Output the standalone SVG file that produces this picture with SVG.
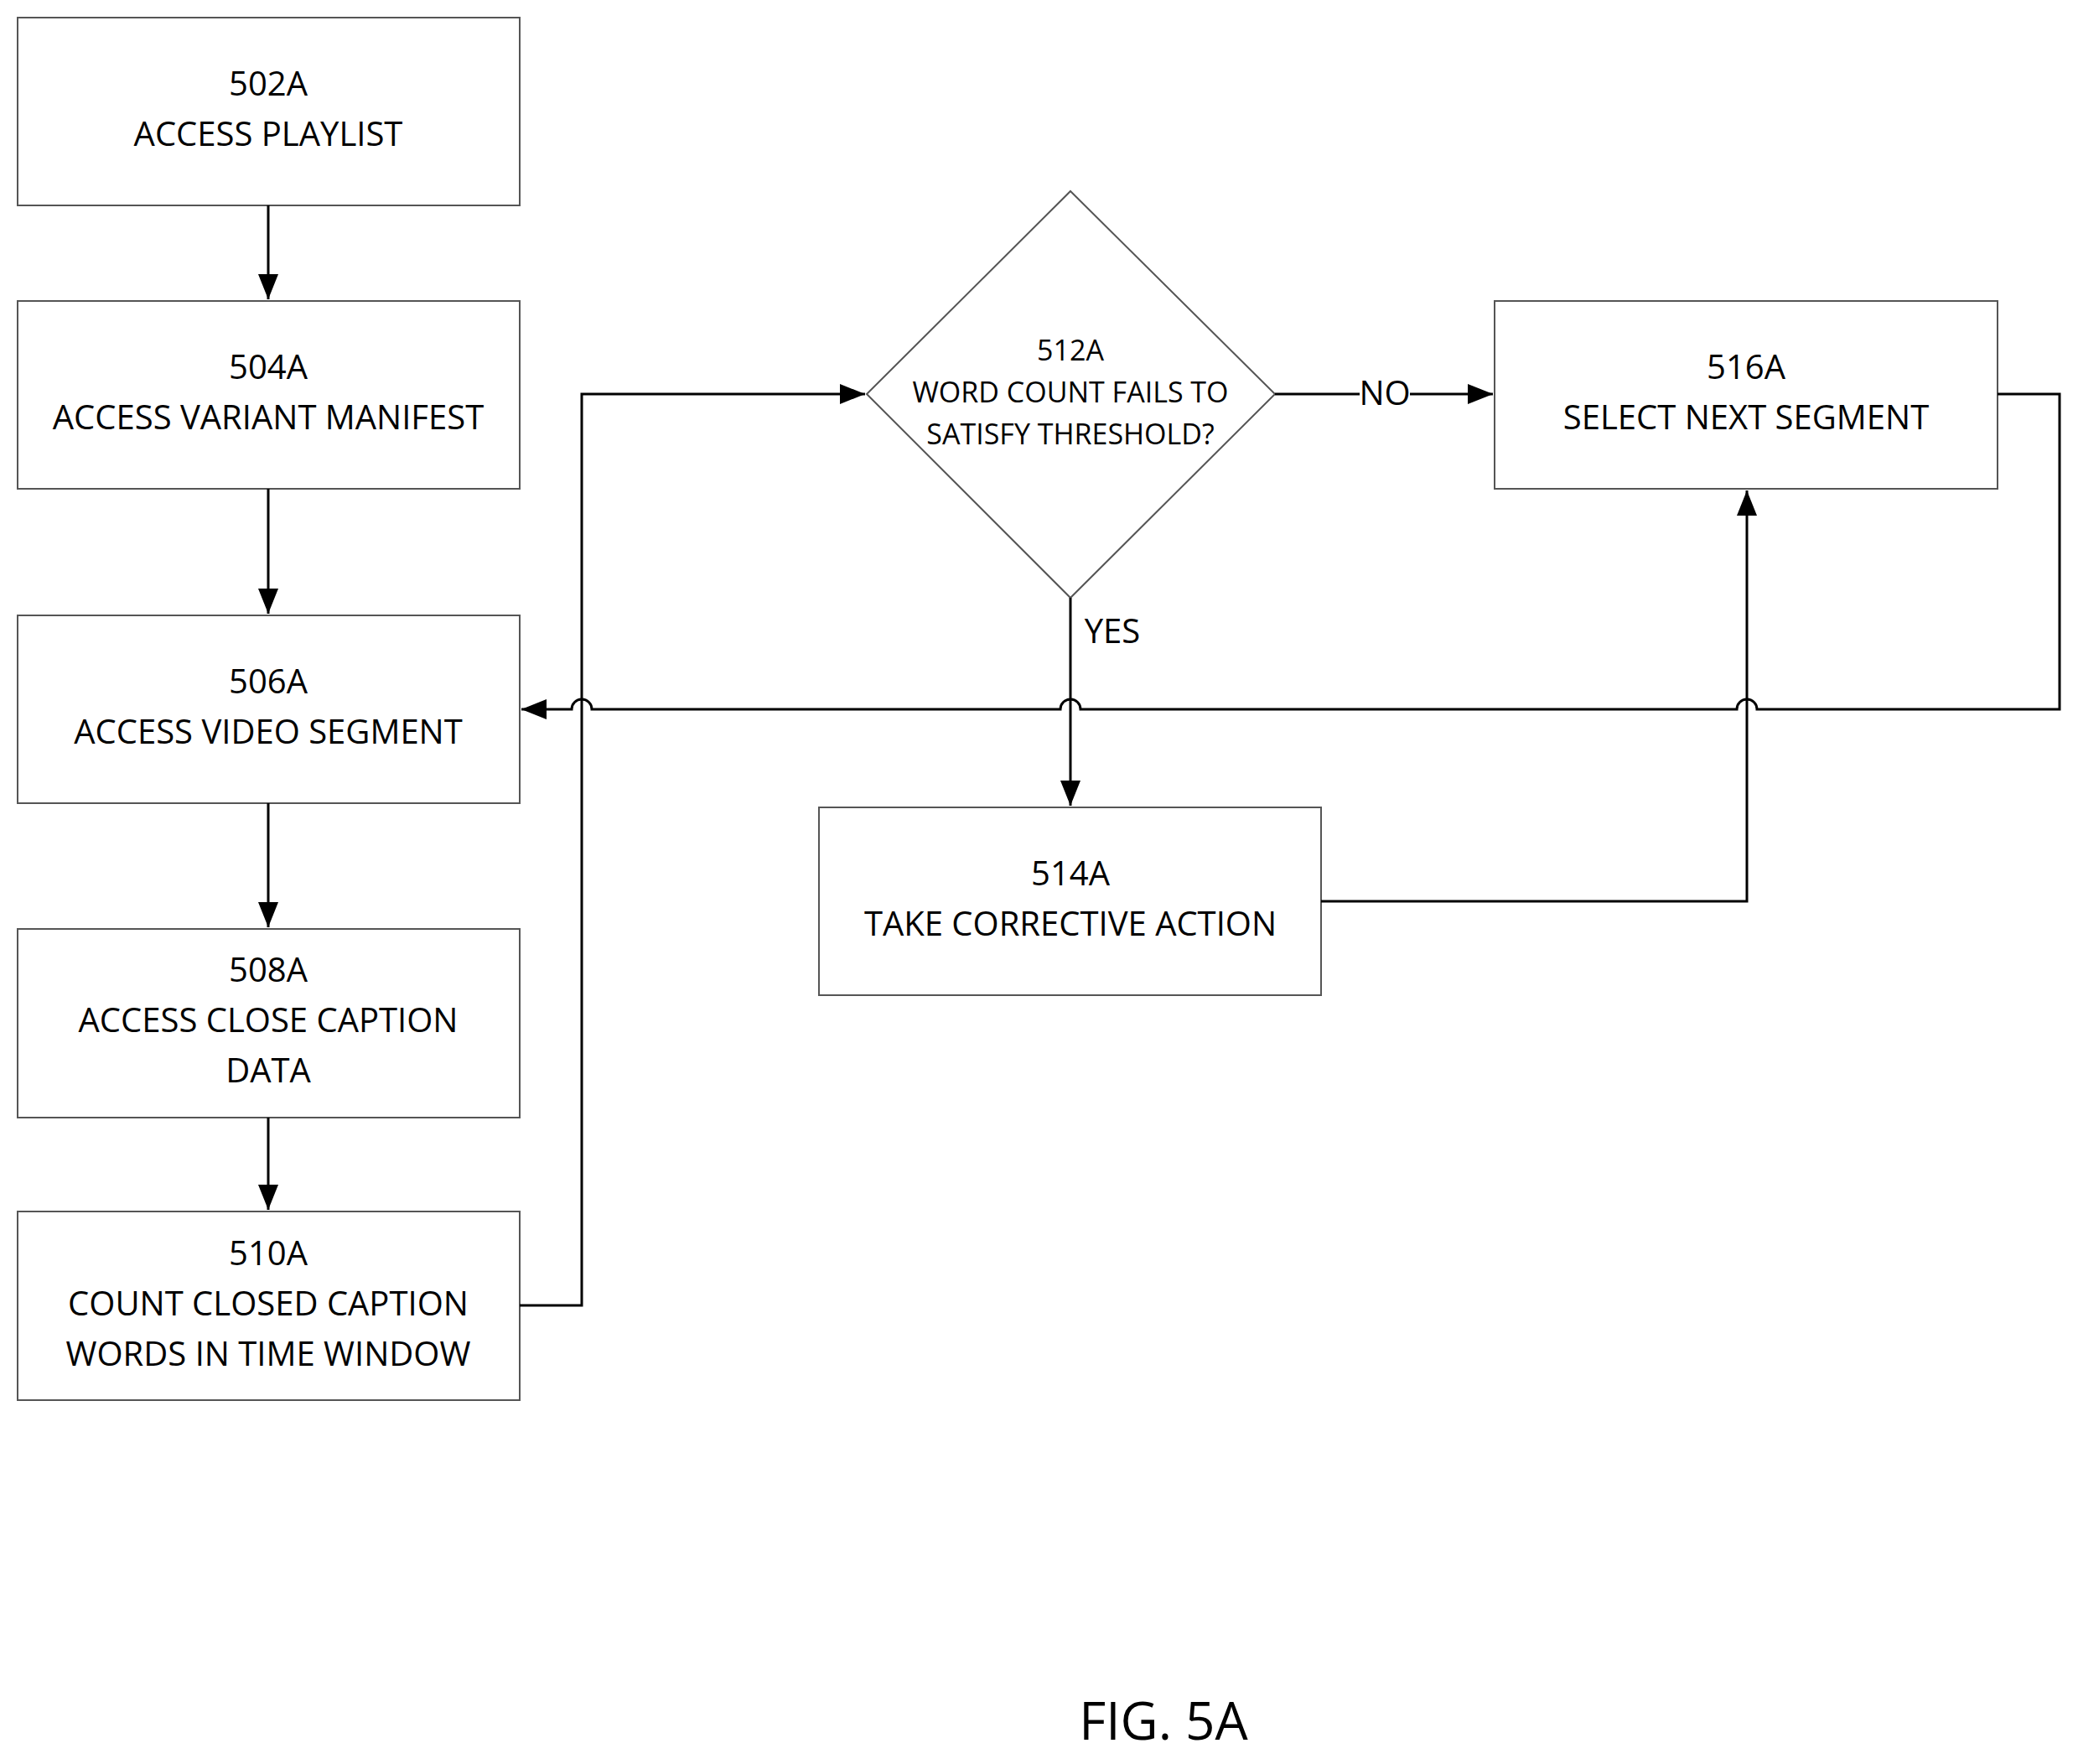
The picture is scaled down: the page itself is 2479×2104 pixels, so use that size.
<svg xmlns="http://www.w3.org/2000/svg" width="2479" height="2104" viewBox="0 0 2479 2104">
<style>
.b{fill:#fff;stroke:#555;stroke-width:2}
.t{font-family:"Open Sans","Liberation Sans",sans-serif;font-size:40px;fill:#000;text-anchor:middle;dominant-baseline:middle}
.s{font-size:34px}
.c{fill:none;stroke:#000;stroke-width:3}
</style>
<defs><marker id="a" markerWidth="12" markerHeight="10" refX="11" refY="5" orient="auto" markerUnits="userSpaceOnUse" viewBox="0 0 12 10"><path d="M0,0L12,5L0,10z" fill="#000"/></marker>
<marker id="A" markerWidth="30" markerHeight="24" refX="30" refY="12" orient="auto" markerUnits="userSpaceOnUse"><path d="M0,0L30,12L0,24z" fill="#000"/></marker></defs>
<rect width="2479" height="2104" fill="#fff"/>
<g id="n502A"><rect class="b" x="21" y="21" width="599" height="224"/><text class="t" x="320" y="103">502A</text><text class="t" x="320" y="163">ACCESS PLAYLIST</text></g>
<g id="n504A"><rect class="b" x="21" y="359" width="599" height="224"/><text class="t" x="320" y="441">504A</text><text class="t" x="320" y="501">ACCESS VARIANT MANIFEST</text></g>
<g id="n506A"><rect class="b" x="21" y="734" width="599" height="224"/><text class="t" x="320" y="816">506A</text><text class="t" x="320" y="876">ACCESS VIDEO SEGMENT</text></g>
<g id="n508A"><rect class="b" x="21" y="1108" width="599" height="225"/><text class="t" x="320" y="1160">508A</text><text class="t" x="320" y="1220">ACCESS CLOSE CAPTION</text><text class="t" x="320" y="1280">DATA</text></g>
<g id="n510A"><rect class="b" x="21" y="1445" width="599" height="225"/><text class="t" x="320" y="1498">510A</text><text class="t" x="320" y="1558">COUNT CLOSED CAPTION</text><text class="t" x="320" y="1618">WORDS IN TIME WINDOW</text></g>
<g id="n512A"><path class="b" d="M1277,228L1521,470L1277,713L1034,470z"/><text class="t s" x="1277" y="421">512A</text><text class="t s" x="1277" y="471">WORD COUNT FAILS TO</text><text class="t s" x="1277" y="521">SATISFY THRESHOLD?</text></g>
<g id="n514A"><rect class="b" x="977" y="963" width="599" height="224"/><text class="t" x="1277" y="1045">514A</text><text class="t" x="1277" y="1105">TAKE CORRECTIVE ACTION</text></g>
<g id="n516A"><rect class="b" x="1783" y="359" width="600" height="224"/><text class="t" x="2083" y="441">516A</text><text class="t" x="2083" y="501">SELECT NEXT SEGMENT</text></g>
<g id="connectors">
<path class="c" d="M320,245V357" marker-end="url(#A)"/>
<path class="c" d="M320,583V732" marker-end="url(#A)"/>
<path class="c" d="M320,958V1106" marker-end="url(#A)"/>
<path class="c" d="M320,1333V1443" marker-end="url(#A)"/>
<path class="c" d="M620,1557H694V470H1032" marker-end="url(#A)"/>
<path class="c" d="M1521,470H1622M1682,470H1781" marker-end="url(#A)"/>
<text class="t" x="1652" y="472">NO</text>
<path class="c" d="M1277,713V961" marker-end="url(#A)"/>
<text class="t" x="1327" y="756">YES</text>
<path class="c" d="M1576,1075H2084V585" marker-end="url(#A)"/>
<path class="c" d="M2383,470H2457V846H2096A12,12 0 0 0 2072,846H1289A12,12 0 0 0 1265,846H706A12,12 0 0 0 682,846H622" marker-end="url(#A)"/>
</g>
<text class="t" x="1388" y="2058" style="font-size:62px">FIG. 5A</text>
</svg>
